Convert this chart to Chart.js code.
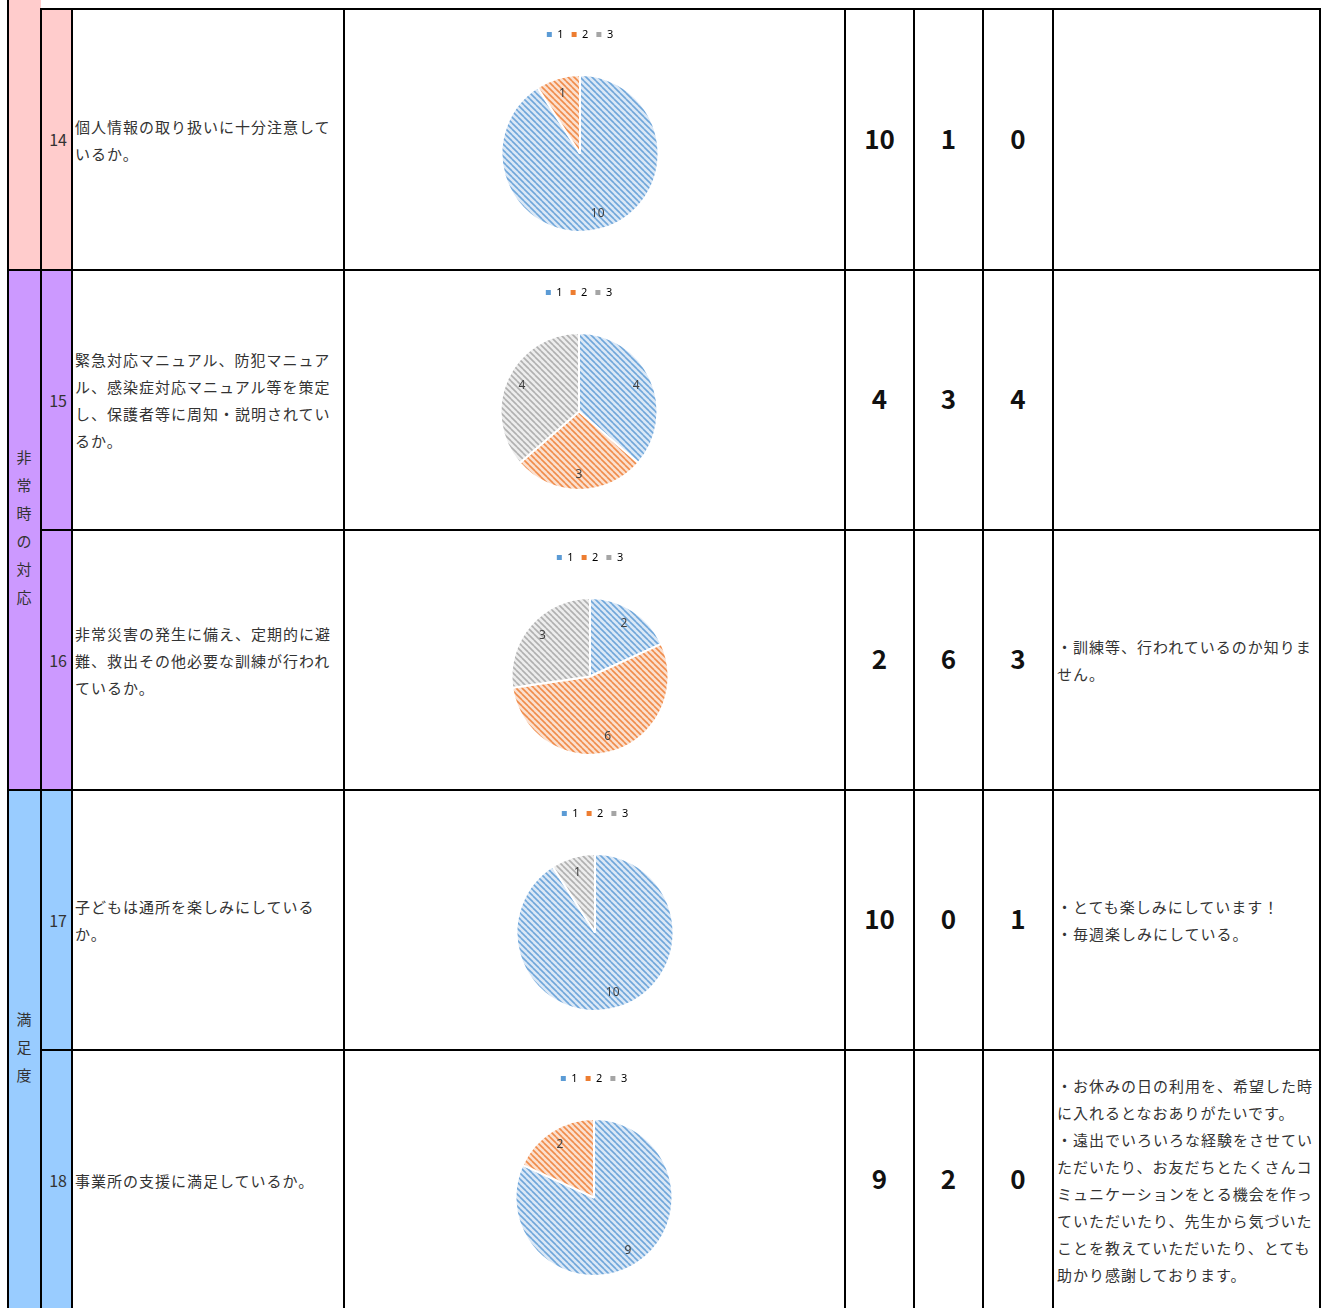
<!DOCTYPE html>
<html lang="ja">
<head>
<meta charset="utf-8">
<script src="https://cdn.jsdelivr.net/npm/chart.js@4"></script>
<style>
  body { margin: 0; background: #fff; font-family: "Noto Sans CJK JP", sans-serif; }
  #sheet { position: relative; width: 1322px; height: 1308px; overflow: hidden; }
  .cell { position: absolute; box-sizing: border-box; display: flex; align-items: center; color: #333; font-size: 15px; letter-spacing: 1px; line-height: 27px; }
  .line { position: absolute; background: #000; }
  .num { justify-content: center; font-weight: bold; font-size: 26px; color: #111; letter-spacing: 0; padding-bottom: 5px; }
  .vert { justify-content: center; text-align: center; line-height: 28px; padding-bottom: 6px; }
  .chartbox { position: absolute; }
</style>
</head>
<body>
<div id="sheet"></div>
<script>
// データ
const categories = ["1", "2", "3"];
const questionNos = [14, 15, 16, 17, 18];
const questions = [
  "個人情報の取り扱いに十分注意して<br>いるか。",
  "緊急対応マニュアル、防犯マニュア<br>ル、感染症対応マニュアル等を策定<br>し、保護者等に周知・説明されてい<br>るか。",
  "非常災害の発生に備え、定期的に避<br>難、救出その他必要な訓練が行われ<br>ているか。",
  "子どもは通所を楽しみにしている<br>か。",
  "事業所の支援に満足しているか。"
];
const answers1 = [10, 4, 2, 10, 9];
const answers2 = [1, 3, 6, 0, 2];
const answers3 = [0, 4, 3, 1, 0];
const comments = [
  "",
  "",
  "・訓練等、行われているのか知りま<br>せん。",
  "・とても楽しみにしています！<br>・毎週楽しみにしている。",
  "・お休みの日の利用を、希望した時<br>に入れるとなおありがたいです。<br>・遠出でいろいろな経験をさせてい<br>ただいたり、お友だちとたくさんコ<br>ミュニケーションをとる機会を作っ<br>ていただいたり、先生から気づいた<br>ことを教えていただいたり、とても<br>助かり感謝しております。"
];

// レイアウト
const cols = [8, 41, 72, 344, 845, 914, 983, 1053, 1320];
const rowTops = [9, 270, 530, 790, 1050, 1310];
const rowColors = ["#FFCCCC", "#CC99FF", "#CC99FF", "#99CCFF", "#99CCFF"];
const pieX = [580, 579, 590, 595, 594];
const chartOffsets = [12, 9, 14, 10, 15];

const sheet = document.getElementById("sheet");

function addDiv(cls, x, y, w, h, html, bg) {
  const d = document.createElement("div");
  d.className = cls;
  d.style.left = x + "px";
  d.style.top = y + "px";
  d.style.width = w + "px";
  d.style.height = h + "px";
  if (bg) d.style.background = bg;
  if (html) d.innerHTML = html;
  sheet.appendChild(d);
  return d;
}

// グループ列
addDiv("cell", cols[0], 0, cols[1] - cols[0], rowTops[1], "", "#FFCCCC");
addDiv("cell vert", cols[0], rowTops[1], cols[1] - cols[0], rowTops[3] - rowTops[1], "非<br>常<br>時<br>の<br>対<br>応", "#CC99FF");
addDiv("cell vert", cols[0], rowTops[3], cols[1] - cols[0], rowTops[5] - rowTops[3], "満<br>足<br>度", "#99CCFF");

questionNos.forEach((no, i) => {
  const y = rowTops[i], h = rowTops[i + 1] - y;
  const c = addDiv("cell", cols[1], y, cols[2] - cols[1], h, String(no), rowColors[i]);
  c.style.justifyContent = "flex-end";
  c.style.paddingRight = "5px";
  c.style.letterSpacing = "0";
  c.style.fontSize = "16px";
  const q = addDiv("cell", cols[2], y, cols[3] - cols[2], h, questions[i]);
  q.style.paddingLeft = "3px";
  addDiv("cell num", cols[4], y, cols[5] - cols[4], h, String(answers1[i]));
  addDiv("cell num", cols[5], y, cols[6] - cols[5], h, String(answers2[i]));
  addDiv("cell num", cols[6], y, cols[7] - cols[6], h, String(answers3[i]));
  const cm = addDiv("cell", cols[7], y, cols[8] - cols[7], h, comments[i]);
  cm.style.paddingLeft = "4px";
});

// 罫線
const lw = 2;
addDiv("line", cols[0] - 1, 0, lw, 1308);
cols.slice(1).forEach(x => addDiv("line", x - 1, rowTops[0] - 1, lw, 1308));
addDiv("line", cols[1] - 1, rowTops[0] - 1, cols[8] - cols[1] + 1, lw);
[1, 3].forEach(r => addDiv("line", cols[0] - 1, rowTops[r] - 1, cols[8] - cols[0] + 1, lw));
[2, 4].forEach(r => addDiv("line", cols[1] - 1, rowTops[r] - 1, cols[8] - cols[1] + 1, lw));

// 斜線パターン
function hatch(fg, bg) {
  const t = document.createElement("canvas");
  t.width = 6; t.height = 6;
  const g = t.getContext("2d");
  g.fillStyle = bg;
  g.fillRect(0, 0, 6, 6);
  g.strokeStyle = fg;
  g.lineWidth = 1.6;
  [[-6, -6], [0, 0], [6, 6], [-6, 0], [0, -6], [6, 0], [0, 6]].forEach(([ox, oy]) => {
    g.beginPath();
    g.moveTo(ox, oy);
    g.lineTo(ox + 6, oy + 6);
    g.stroke();
  });
  return g.createPattern(t, "repeat");
}
const solid = ["#5B9BD5", "#ED7D31", "#A5A5A5"];
const patterns = [hatch("#6fa6da", "#dbe8f6"), hatch("#f08c4a", "#fbe0cf"), hatch("#b0b0b0", "#ededed")];

// 値ラベル
const sliceLabels = {
  id: "sliceLabels",
  afterDatasetsDraw(chart) {
    const ctx = chart.ctx;
    const ds = chart.data.datasets[0];
    chart.getDatasetMeta(0).data.forEach((arc, k) => {
      if (!ds.data[k]) return;
      const p = arc.getProps(["x", "y", "startAngle", "endAngle", "outerRadius"]);
      const a = (p.startAngle + p.endAngle) / 2;
      const r = p.outerRadius * 0.8;
      ctx.save();
      ctx.font = "12px 'Noto Sans', sans-serif";
      ctx.fillStyle = "#404040";
      ctx.textAlign = "center";
      ctx.textBaseline = "middle";
      ctx.fillText(String(ds.data[k]), p.x + Math.cos(a) * r, p.y + Math.sin(a) * r);
      ctx.restore();
    });
  }
};

// 凡例の下に余白を足す
const legendGap = {
  id: "legendGap",
  beforeInit(chart) {
    const fit = chart.legend.fit;
    chart.legend.fit = function () {
      fit.bind(chart.legend)();
      this.height += 24;
    };
  }
};

const W = 220, H = 212;
questionNos.forEach((no, i) => {
  const box = document.createElement("div");
  box.className = "chartbox";
  box.style.left = (pieX[i] - W / 2) + "px";
  box.style.top = (rowTops[i] + chartOffsets[i]) + "px";
  box.style.width = W + "px";
  box.style.height = H + "px";
  const cv = document.createElement("canvas");
  box.appendChild(cv);
  sheet.appendChild(box);
  new Chart(cv, {
    type: "pie",
    data: {
      labels: categories,
      datasets: [{
        data: [answers1[i], answers2[i], answers3[i]],
        backgroundColor: patterns,
        borderColor: "#fff",
        borderWidth: 2
      }]
    },
    options: {
      responsive: true,
      maintainAspectRatio: false,
      animation: false,
      plugins: {
        tooltip: { enabled: false },
        legend: {
          position: "top",
          labels: {
            boxWidth: 5,
            boxHeight: 5,
            padding: 8,
            color: "#595959",
            font: { size: 11, family: "'Noto Sans', sans-serif" },
            generateLabels: (chart) => chart.data.labels.map((l, k) => ({
              text: l, fillStyle: solid[k], strokeStyle: solid[k], lineWidth: 0, index: k
            }))
          }
        }
      }
    },
    plugins: [legendGap, sliceLabels]
  });
});
</script>
</body>
</html>
